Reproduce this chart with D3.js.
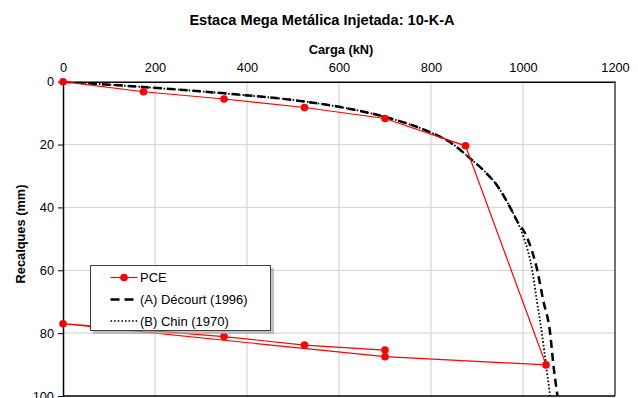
<!DOCTYPE html>
<html>
<head>
<meta charset="utf-8">
<script src="https://cdn.jsdelivr.net/npm/d3@7"></script>
<style>
  body { margin: 0; background: #fff; }
  text { font-family: "Liberation Sans", Arial, sans-serif; fill: #000; }
</style>
</head>
<body>
<div id="chart"></div>
<script>
// PCE - prova de carga estática (carga kN, recalque mm)
const pceCarga = [0, 175, 350, 525, 700, 875, 1050, 700, 0, 350, 525, 700];
const pceRecalque = [0, 3.2, 5.5, 8.2, 11.7, 20.4, 90.1, 87.5, 77, 81.1, 83.8, 85.4];

// (A) Décourt (1996) - curva extrapolada
const decourtCarga = [0, 175, 350, 525, 600, 700, 800, 840, 885, 917, 943, 972, 986, 1008, 1031, 1044, 1059, 1066, 1075];
const decourtRecalque = [0, 1.7, 3.7, 6.3, 8, 11.2, 16.2, 19.1, 24.4, 28.6, 32.9, 40, 44, 49.3, 60, 69.6, 80, 90, 100];

// (B) Chin (1970)
const chinCarga = [0, 175, 350, 525, 600, 700, 800, 840, 885, 917, 943, 972, 986, 1001, 1020, 1030, 1041, 1050, 1059];
const chinRecalque = [0, 1.7, 3.7, 6.3, 8, 11.2, 16.2, 19.1, 24.4, 28.6, 32.9, 40, 44, 49.3, 60, 69.6, 80, 90, 100];

const xTicks = [0, 200, 400, 600, 800, 1000, 1200];
const yTicks = [0, 20, 40, 60, 80, 100];
const legendLabels = ["PCE", "(A) Décourt (1996)", "(B) Chin (1970)"];

//Setup Dimensions
const width = 638;
const height = 398;
const margin = { top: 81.7, right: 23, bottom: 2, left: 63 };

const svg = d3.select("#chart")
    .append("svg")
    .attr("width", width)
    .attr("height", height);

const x = d3.scaleLinear().domain([0, 1200]).range([margin.left, width - margin.right]);
const y = d3.scaleLinear().domain([0, 100]).range([margin.top, height - margin.bottom]);

//Gridlines
svg.append("g")
    .selectAll("line")
    .data(xTicks.slice(1, -1))
    .join("line")
    .attr("x1", d => x(d)).attr("x2", d => x(d))
    .attr("y1", y(0)).attr("y2", y(100))
    .attr("stroke", "#d9d9d9").attr("stroke-width", 1.3);
svg.append("g")
    .selectAll("line")
    .data(yTicks.slice(1, -1))
    .join("line")
    .attr("x1", x(0)).attr("x2", x(1200))
    .attr("y1", d => y(d)).attr("y2", d => y(d))
    .attr("stroke", "#d9d9d9").attr("stroke-width", 1.3);

//Axes
const xAxis = svg.append("g")
    .attr("transform", `translate(0,${y(0)})`)
    .call(d3.axisTop(x).tickValues(xTicks).tickFormat(d3.format("d")).tickSize(0).tickPadding(10).tickSizeOuter(0));
const yAxis = svg.append("g")
    .attr("transform", `translate(${x(0)},0)`)
    .call(d3.axisLeft(y).tickValues(yTicks).tickFormat(d3.format("d")).tickSize(5).tickPadding(4).tickSizeOuter(0));
[xAxis, yAxis].forEach(a => {
    a.selectAll("text").style("font-size", "12.8px").attr("fill", "#000");
    a.select(".domain").attr("stroke", "#000").attr("stroke-width", 1.5);
    a.selectAll(".tick line").attr("stroke", "#000");
});

//Right and bottom border
svg.append("line")
    .attr("x1", x(1200)).attr("x2", x(1200)).attr("y1", y(0)).attr("y2", y(100))
    .attr("stroke", "#404040").attr("stroke-width", 1.5);
svg.append("line")
    .attr("x1", x(0)).attr("x2", x(1200)).attr("y1", y(100)).attr("y2", y(100))
    .attr("stroke", "#000").attr("stroke-width", 1.5);

//Titles
svg.append("text")
    .attr("x", 322).attr("y", 24.5)
    .attr("text-anchor", "middle")
    .style("font-size", "14.6px").style("font-weight", "bold")
    .text("Estaca Mega Metálica Injetada: 10-K-A");
svg.append("text")
    .attr("x", 341).attr("y", 53.5)
    .attr("text-anchor", "middle")
    .style("font-size", "12.8px").style("font-weight", "bold")
    .text("Carga (kN)");
svg.append("text")
    .attr("transform", "translate(25,234) rotate(-90)")
    .attr("text-anchor", "middle")
    .style("font-size", "12.8px").style("font-weight", "bold")
    .text("Recalques (mm)");

//Clip for the fitted curves
svg.append("clipPath").attr("id", "plotClip")
    .append("rect")
    .attr("x", x(0)).attr("y", y(0))
    .attr("width", x(1200) - x(0)).attr("height", y(100) - y(0));

const zip = (a, b) => a.map((v, i) => [v, b[i]]);
const curveLine = d3.line()
    .x(d => x(d[0]))
    .y(d => y(d[1]))
    .curve(d3.curveMonotoneX);
const plainLine = d3.line()
    .x(d => x(d[0]))
    .y(d => y(d[1]));

const curves = svg.append("g").attr("clip-path", "url(#plotClip)");
curves.append("path")
    .attr("d", curveLine(zip(decourtCarga, decourtRecalque)))
    .attr("fill", "none").attr("stroke", "#000")
    .attr("stroke-width", 2.5).attr("stroke-dasharray", "8,5");
curves.append("path")
    .attr("d", curveLine(zip(chinCarga, chinRecalque)))
    .attr("fill", "none").attr("stroke", "#000")
    .attr("stroke-width", 1.8).attr("stroke-dasharray", "1.6,2");

//PCE series
const pce = zip(pceCarga, pceRecalque);
svg.append("path")
    .attr("d", plainLine(pce))
    .attr("fill", "none").attr("stroke", "#ff0000").attr("stroke-width", 1.2);
svg.append("g")
    .selectAll("circle")
    .data(pce)
    .join("circle")
    .attr("cx", d => x(d[0]))
    .attr("cy", d => y(d[1]))
    .attr("r", 3.8)
    .attr("fill", "#ff0000");

//Legend
const legend = svg.append("g");
legend.append("rect")
    .attr("x", 93).attr("y", 268).attr("width", 181).attr("height", 66)
    .attr("fill", "#a6a6a6").attr("opacity", 0.7);
legend.append("rect")
    .attr("x", 90.5).attr("y", 265.5).attr("width", 180).attr("height", 65)
    .attr("fill", "#fff").attr("stroke", "#404040").attr("stroke-width", 1);

const legendY = [277.5, 299.5, 321];
legend.append("line")
    .attr("x1", 110.5).attr("x2", 137.5).attr("y1", legendY[0]).attr("y2", legendY[0])
    .attr("stroke", "#ff0000").attr("stroke-width", 1.2);
legend.append("circle")
    .attr("cx", 124).attr("cy", legendY[0]).attr("r", 3.8).attr("fill", "#ff0000");
legend.append("line")
    .attr("x1", 110.5).attr("x2", 137.5).attr("y1", legendY[1]).attr("y2", legendY[1])
    .attr("stroke", "#000").attr("stroke-width", 2.5).attr("stroke-dasharray", "9,5");
legend.append("line")
    .attr("x1", 110.5).attr("x2", 137.5).attr("y1", legendY[2]).attr("y2", legendY[2])
    .attr("stroke", "#000").attr("stroke-width", 1.5).attr("stroke-dasharray", "1.6,2");
legend.selectAll("text.lbl")
    .data(legendLabels)
    .join("text")
    .attr("class", "lbl")
    .attr("x", 140).attr("y", (d, i) => legendY[i] + 4.5)
    .style("font-size", "13px")
    .text(d => d);
</script>
</body>
</html>
